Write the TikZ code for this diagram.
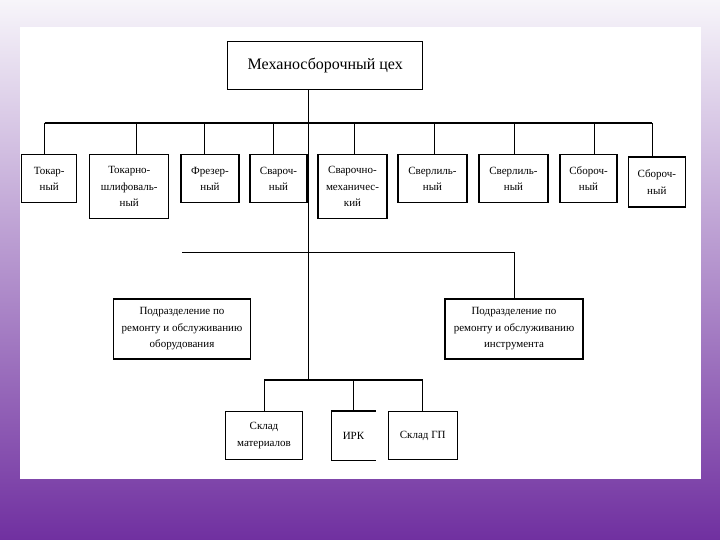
\documentclass[tikz,border=0pt]{standalone}
\usepackage{fontspec}
\setmainfont{Liberation Serif}
\definecolor{paletop}{RGB}{247,245,250}
\definecolor{lilac}{RGB}{180,148,208}
\definecolor{deeppurple}{RGB}{112,48,160}
\begin{document}
\begin{tikzpicture}[
        x=1pt, y=-1pt,
        unit/.style={draw, line width=1.2pt, inner sep=1pt, align=center, font=\fontsize{11}{16.5}\selectfont},
        link/.style={line width=0.8pt},
        bus/.style={line width=2.2pt}
    ]
        % Background and panel
        \shade[top color=paletop, middle color=lilac, bottom color=deeppurple] (0,0) rectangle (720,540);
        \fill[white] (20,27) rectangle (701,479);
        \useasboundingbox (0,0) rectangle (720,540);

        % Head
        \node[unit, minimum width=195pt, minimum height=48pt, font=\fontsize{16}{18}\selectfont] (shop) at (325.3,65.5) {Механосборочный цех};

        % Shops
        \foreach \i/\cx/\cy/\bw/\bh/\dx/\txt in {
            1/49.3/178.8/55/48/44.5/{Токар-\\ный},
            2/129.3/186.8/79/64/136/{Токарно-\\шлифоваль-\\ный},
            3/210/178.8/58/48/204.3/{Фрезер-\\ный},
            4/278.5/178.8/57/48/273.5/{Свароч-\\ный},
            5/352.5/186.8/69/64/354.3/{Сварочно-\\механичес-\\кий},
            6/432.5/178.8/69/48/434.3/{Сверлиль-\\ный},
            7/513.5/178.8/69/48/514/{Сверлиль-\\ный},
            8/588.5/178.8/57/48/594/{Сбороч-\\ный},
            9/656.8/182/57/50/652/{Сбороч-\\ный}} {
            \node[unit, minimum width=\bw pt, minimum height=\bh pt] (ws\i) at (\cx,\cy) {\txt};
            \coordinate (d\i) at (\dx,123);
            \draw[link] (d\i) -- (d\i |- ws\i.north);
        }
        \draw[bus] (d1) -- (d9);

        % Trunk
        \coordinate (hub) at (308.3,380);
        \draw[link] (shop.south -| hub) -- (hub);

        % Repair units
        \node[unit, minimum width=137pt, minimum height=60pt] (rep1) at (182,329) {Подразделение по\\ремонту и обслуживанию\\оборудования};
        \node[unit, minimum width=138pt, minimum height=60pt] (rep2) at (514,329) {Подразделение по\\ремонту и обслуживанию\\инструмента};
        \coordinate (r1) at (182,252);
        \draw[line width=0.9pt] (r1) -| (rep2.north);

        % Stores
        \node[unit, minimum width=77pt, minimum height=48pt] (store1) at (264,435.5) {Склад\\материалов};
        \node[unit, draw=none, minimum width=43.5pt, minimum height=48pt] (irk) at (353.5,435.5) {ИРК};
        \node[unit, minimum width=69pt, minimum height=48pt] (store2) at (422.7,435.5) {Склад ГП};
        \draw[line width=1.2pt] (irk.north east) -- (irk.north west) -- (irk.south west) -- (irk.south east);
        \draw[bus] (store1.north |- hub) -- (store2.north |- hub);
        \foreach \n in {store1,irk,store2} {
            \draw[link] (\n.north |- hub) -- (\n.north);
        }
    \end{tikzpicture}
\end{document}
